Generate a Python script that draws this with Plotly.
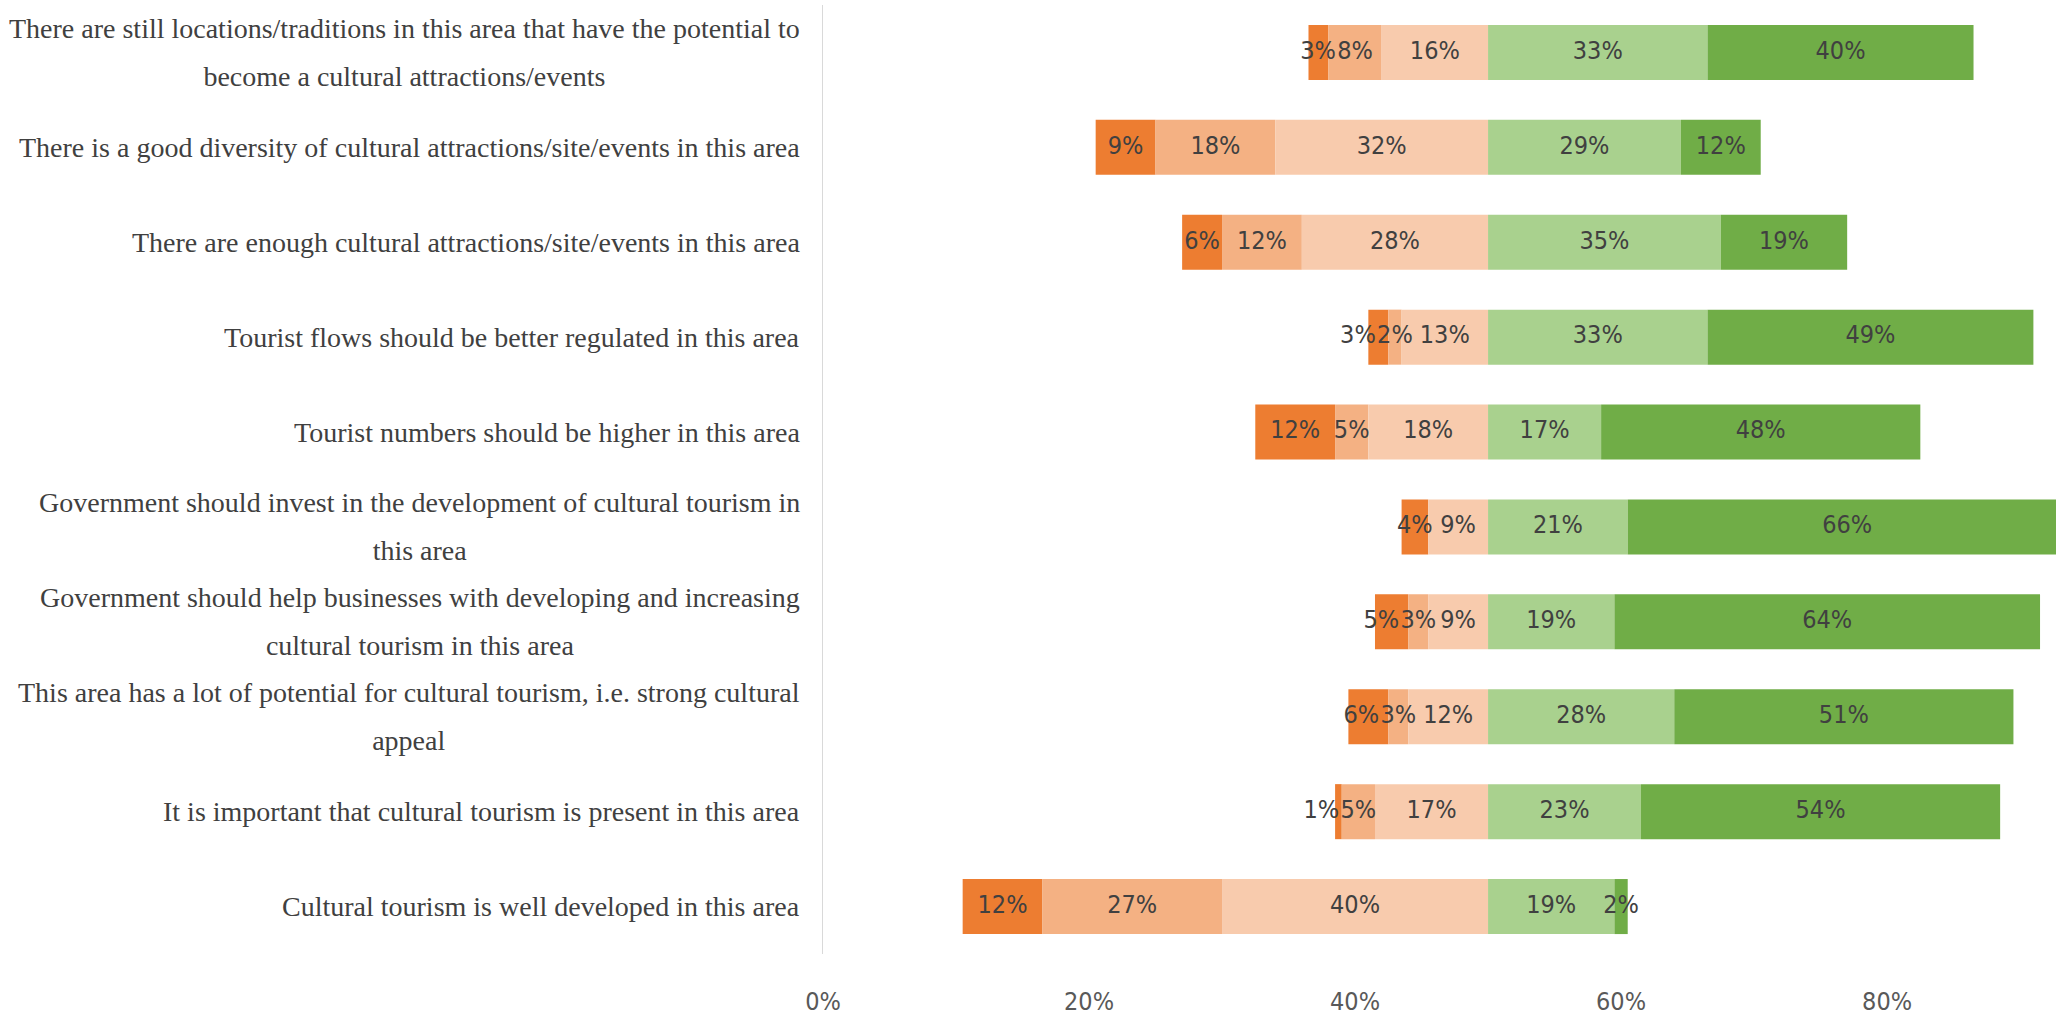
import plotly.graph_objects as go

# Survey statements, listed top to bottom (each entry is a list of text lines)
statements = [
    ["There are still locations/traditions in this area that have the potential to",
     "become a cultural attractions/events"],
    ["There is a good diversity of cultural attractions/site/events in this area"],
    ["There are enough cultural attractions/site/events in this area"],
    ["Tourist flows should be better regulated in this area"],
    ["Tourist numbers should be higher in this area"],
    ["Government should invest in the development of cultural tourism in",
     "this area"],
    ["Government should help businesses with developing and increasing",
     "cultural tourism in this area"],
    ["This area has a lot of potential for cultural tourism, i.e. strong cultural",
     "appeal"],
    ["It is important that cultural tourism is present in this area"],
    ["Cultural tourism is well developed in this area"],
]

# Response shares (%) per statement
strongly_disagree = [3, 9, 6, 3, 12, 4, 5, 6, 1, 12]
disagree = [8, 18, 12, 2, 5, 0, 3, 3, 5, 27]
somewhat_disagree = [16, 32, 28, 13, 18, 9, 9, 12, 17, 40]
agree = [33, 29, 35, 33, 17, 21, 19, 28, 23, 19]
strongly_agree = [40, 12, 19, 49, 48, 66, 64, 51, 54, 2]

x_tick_values = [0, 20, 40, 60, 80]
x_tick_labels = ["0%", "20%", "40%", "60%", "80%"]

series = [
    ("Strongly disagree", strongly_disagree, "#ED7D31"),
    ("Disagree", disagree, "#F4B183"),
    ("Somewhat disagree", somewhat_disagree, "#F8CBAD"),
    ("Agree", agree, "#A9D18E"),
    ("Strongly agree", strongly_agree, "#70AD47"),
]

MIDPOINT = 50      # disagree/agree split on the axis
HALF = 0.5         # each share is drawn at half width around the midpoint
X_MAX = 92.7

FIG_W, FIG_H = 2056, 1016
MARGIN_L, MARGIN_R = 823, 0
PX_PER_UNIT = (FIG_W - MARGIN_L - MARGIN_R) / X_MAX

LABEL_FONT = "Liberation Sans Narrow, Arial Narrow, DejaVu Sans Condensed, Liberation Sans, sans-serif"
LABEL_SIZE = 25
CAT_SIZE = 28
CAT_LINE = 37      # font size that sets the line pitch of wrapped statements

keys = [f"s{i}" for i in range(len(statements))]

# left edge of every bar: negative shares stack to the left of the midpoint
left_totals = [a + b + c for a, b, c in zip(strongly_disagree, disagree, somewhat_disagree)]
cursor = [MIDPOINT - t * HALF for t in left_totals]

fig = go.Figure()
segments = []  # (centre, value) per row for data labels
for name, values, color in series:
    widths = [v * HALF for v in values]
    fig.add_trace(go.Bar(
        name=name,
        orientation="h",
        y=keys,
        x=widths,
        base=list(cursor),
        marker=dict(color=color, line=dict(width=0)),
        hoverinfo="skip",
        showlegend=False,
    ))
    segments.append([(c + w / 2, v) for c, w, v in zip(cursor, widths, values)])
    cursor = [c + w for c, w in zip(cursor, widths)]


def text_width_units(label):
    return 0.66 * LABEL_SIZE * len(label) / PX_PER_UNIT


# data labels centred on each segment; crowded labels on the disagree side
# are pushed leftwards so they do not collide
PAD = 4 / PX_PER_UNIT
lab_x, lab_y, lab_t = [], [], []
for row, key in enumerate(keys):
    left = [(segments[k][row][0], f"{segments[k][row][1]}%") for k in range(3) if segments[k][row][1] > 0]
    placed = []
    for centre, label in reversed(left):
        pos = centre
        if placed:
            prev_pos, prev_label = placed[-1]
            limit = prev_pos - (text_width_units(prev_label) + text_width_units(label)) / 2 - PAD
            pos = min(pos, limit)
        placed.append((pos, label))
    right = [(segments[k][row][0], f"{segments[k][row][1]}%") for k in range(3, 5) if segments[k][row][1] > 0]
    for pos, label in placed + right:
        lab_x.append(pos)
        lab_y.append(key)
        lab_t.append(label)

fig.add_trace(go.Scatter(
    x=lab_x, y=lab_y, text=lab_t, mode="text",
    textposition="middle center",
    textfont=dict(family=LABEL_FONT, size=LABEL_SIZE, color="#404040"),
    hoverinfo="skip", showlegend=False, cliponaxis=False,
))

# statement labels: block right-aligned next to the axis, lines centred
for key, lines in zip(keys, statements):
    text = "<br>".join(f'<span style="font-size:{CAT_SIZE}px">{ln}</span>' for ln in lines)
    fig.add_annotation(
        x=0, xref="paper", xshift=-21, xanchor="right",
        y=key, yref="y", yanchor="middle",
        text=text, align="center", showarrow=False,
        font=dict(family="Liberation Serif, DejaVu Serif, serif",
                  size=CAT_LINE if len(lines) > 1 else CAT_SIZE, color="#404040"),
    )

fig.update_layout(
    width=FIG_W, height=FIG_H,
    margin=dict(l=MARGIN_L, r=MARGIN_R, t=5, b=50),
    barmode="overlay",
    bargap=0.42,
    plot_bgcolor="white",
    paper_bgcolor="white",
)
fig.update_xaxes(
    range=[0, X_MAX],
    tickvals=x_tick_values, ticktext=x_tick_labels,
    showgrid=False, zeroline=False, showline=False, ticks="",
    ticklabelstandoff=30,
    tickfont=dict(family=LABEL_FONT, size=25, color="#595959"),
)
fig.update_yaxes(
    categoryorder="array", categoryarray=keys, autorange="reversed",
    showticklabels=False, ticks="", showgrid=False, zeroline=False,
    showline=True, linecolor="#D9D9D9", linewidth=1,
)

fig.write_html("out.html")
